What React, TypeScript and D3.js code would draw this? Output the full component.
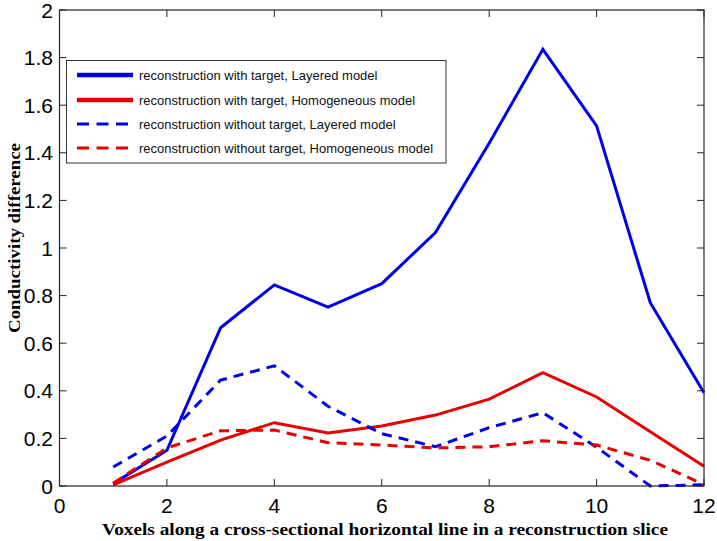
import React from "react";
import * as d3 from "d3";

const voxels = [1, 2, 3, 4, 5, 6, 7, 8, 9, 10, 11, 12];
const withTargetLayered = [0.01, 0.15, 0.665, 0.845, 0.752, 0.85, 1.065, 1.44, 1.835, 1.513, 0.77, 0.392];
const withTargetHomogeneous = [0.005, 0.1, 0.193, 0.266, 0.223, 0.252, 0.298, 0.365, 0.476, 0.374, 0.228, 0.083];
const withoutTargetLayered = [0.08, 0.21, 0.445, 0.505, 0.335, 0.22, 0.165, 0.245, 0.308, 0.163, 0.0, 0.005];
const withoutTargetHomogeneous = [0.012, 0.16, 0.232, 0.235, 0.182, 0.172, 0.16, 0.165, 0.19, 0.172, 0.108, 0.006];

const xTicks = [0, 2, 4, 6, 8, 10, 12];
const yTicks = [0, 0.2, 0.4, 0.6, 0.8, 1, 1.2, 1.4, 1.6, 1.8, 2];

const seriesLabels = [
  "reconstruction with target, Layered model",
  "reconstruction with target, Homogeneous model",
  "reconstruction without target, Layered model",
  "reconstruction without target, Homogeneous model",
];

const BLUE = "#0000e8";
const RED = "#e80000";

export default function App() {
  const W = 717, H = 541;
  const left = 59.5, right = 704, top = 10, bottom = 486;
  const x = d3.scaleLinear().domain([0, 12]).range([left, right]);
  const y = d3.scaleLinear().domain([0, 2]).range([bottom, top]);

  const line = d3
    .line<number>()
    .x((_, i) => x(voxels[i]))
    .y((d) => y(d));

  const series = [
    { data: withTargetLayered, color: BLUE, dash: undefined as string | undefined },
    { data: withTargetHomogeneous, color: RED, dash: undefined },
    { data: withoutTargetLayered, color: BLUE, dash: "10,7" },
    { data: withoutTargetHomogeneous, color: RED, dash: "10,7" },
  ];

  const tickLen = 7;
  const tickFont = "'Liberation Sans', Arial, sans-serif";
  const labelFont = "'Liberation Serif', 'Times New Roman', serif";

  const legend = { x0: 66.5, y0: 60.5, x1: 446, y1: 163 };
  const legendRows = [75, 100, 124, 148];

  return (
    <svg
      width={W}
      height={H}
      style={{ position: "absolute", left: 0, top: 0, display: "block", background: "#fff" }}
    >
      <rect x={0} y={0} width={W} height={H} fill="#fff" />
      {series.map((s, i) => (
        <path
          key={i}
          d={line(s.data) || ""}
          fill="none"
          stroke={s.color}
          strokeWidth={3}
          strokeDasharray={s.dash}
          strokeLinejoin="miter"
        />
      ))}
      <rect
        x={left}
        y={top}
        width={right - left}
        height={bottom - top}
        fill="none"
        stroke="#222"
        strokeWidth={1.2}
      />
      {xTicks.map((t) => (
        <g key={"x" + t}>
          <line x1={x(t)} x2={x(t)} y1={bottom} y2={bottom - tickLen} stroke="#222" strokeWidth={1} />
          <line x1={x(t)} x2={x(t)} y1={top} y2={top + tickLen} stroke="#222" strokeWidth={1} />
          <text x={x(t)} y={513} textAnchor="middle" fontFamily={tickFont} fontSize={21} fill="#000">
            {t}
          </text>
        </g>
      ))}
      {yTicks.map((t) => (
        <g key={"y" + t}>
          <line x1={left} x2={left + tickLen} y1={y(t)} y2={y(t)} stroke="#222" strokeWidth={1} />
          <line x1={right} x2={right - tickLen} y1={y(t)} y2={y(t)} stroke="#222" strokeWidth={1} />
          <text x={53} y={y(t) + 7.5} textAnchor="end" fontFamily={tickFont} fontSize={21} fill="#000">
            {d3.format("~g")(t)}
          </text>
        </g>
      ))}
      <text
        x={385}
        y={535}
        textAnchor="middle"
        fontFamily={labelFont}
        fontWeight="bold"
        fontSize={16.5}
        textLength={566}
        lengthAdjust="spacingAndGlyphs"
        fill="#000"
      >
        Voxels along a cross-sectional horizontal line in a reconstruction slice
      </text>
      <text
        transform={`translate(20,238) rotate(-90)`}
        textAnchor="middle"
        fontFamily={labelFont}
        fontWeight="bold"
        fontSize={16.5}
        textLength={190}
        lengthAdjust="spacingAndGlyphs"
        fill="#000"
      >
        Conductivity difference
      </text>
      <rect
        x={legend.x0}
        y={legend.y0}
        width={legend.x1 - legend.x0}
        height={legend.y1 - legend.y0}
        fill="#fff"
        stroke="#333"
        strokeWidth={1}
      />
      {series.map((s, i) => (
        <g key={"l" + i}>
          <line
            x1={77}
            x2={133}
            y1={legendRows[i]}
            y2={legendRows[i]}
            stroke={s.color}
            strokeWidth={s.dash ? 3 : 4.5}
            strokeDasharray={s.dash ? "12,7.5" : undefined}
          />
          <text x={139} y={legendRows[i] + 4.5} fontFamily={tickFont} fontSize={13} fill="#111">
            {seriesLabels[i]}
          </text>
        </g>
      ))}
    </svg>
  );
}
